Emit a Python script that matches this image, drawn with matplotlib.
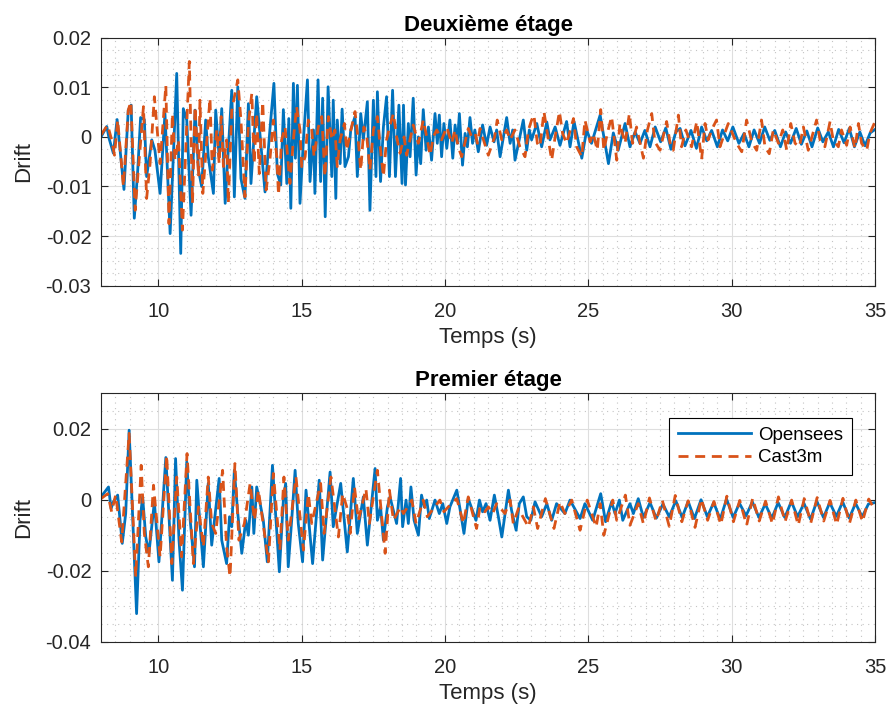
import matplotlib
matplotlib.use('Agg')
import matplotlib.pyplot as plt
from matplotlib.ticker import MultipleLocator

plt.rcParams['font.family'] = ['Liberation Sans', 'DejaVu Sans']
plt.rcParams['axes.unicode_minus'] = False

# Deuxieme etage - Opensees (time s, drift)
t2_os = [8.00, 8.20, 8.28, 8.43, 8.56, 8.80, 8.95, 9.05, 9.16, 9.28, 9.38, 9.51, 9.59, 9.77, 9.88,
         10.06, 10.23, 10.41, 10.64, 10.78, 10.87, 10.99, 11.14, 11.28, 11.40, 11.51, 11.65, 11.74,
         11.92, 12.00, 12.12, 12.21, 12.33, 12.56, 12.65, 12.77, 12.88, 13.02, 13.14, 13.23, 13.43,
         13.72, 13.89, 14.03, 14.15, 14.27, 14.36, 14.48, 14.55, 14.62, 14.71, 14.78, 14.85, 14.94,
         15.06, 15.20, 15.29, 15.41, 15.46, 15.57, 15.66, 15.73, 15.82, 15.92, 16.05, 16.10, 16.19,
         16.24, 16.34, 16.41, 16.51, 16.63, 16.71, 16.86, 16.94, 17.06, 17.15, 17.29, 17.38, 17.50,
         17.59, 17.64, 17.75, 17.85, 17.96, 18.06, 18.17, 18.27, 18.39, 18.50, 18.55, 18.62, 18.72,
         18.78, 18.89, 18.99, 19.07, 19.15, 19.24, 19.34, 19.42, 19.53, 19.65, 19.73, 19.80, 19.88,
         19.96, 20.06, 20.17, 20.27, 20.35, 20.43, 20.50, 20.61, 20.70, 20.78, 20.87, 20.96, 21.04,
         21.16, 21.31, 21.45, 21.57, 21.71, 21.80, 21.92, 22.15, 22.27, 22.36, 22.44, 22.73, 22.85,
         22.94, 23.02, 23.20, 23.37, 23.55, 23.66, 23.84, 24.01, 24.24, 24.36, 24.50, 24.77, 24.94,
         25.11, 25.41, 25.70, 25.87, 26.04, 26.28, 26.45, 26.63, 26.80, 26.97, 27.15, 27.33, 27.52,
         27.70, 27.88, 28.05, 28.20, 28.37, 28.58, 28.77, 28.95, 29.13, 29.30, 29.50, 29.68, 29.86,
         30.04, 30.25, 30.43, 30.60, 30.78, 30.97, 31.15, 31.33, 31.50, 31.70, 31.88, 32.05, 32.25,
         32.43, 32.62, 32.80, 33.00, 33.18, 33.37, 33.55, 33.73, 33.92, 34.10, 34.28, 34.47, 34.65,
         34.83, 35.00]
d2_os = [0.0000, 0.0021, -0.0003, -0.0033, 0.0035, -0.0106, 0.0054, 0.0064, -0.0164, -0.0067, 0.0039,
         0.0035, -0.0080, -0.0006, -0.0027, -0.0114, 0.0047, -0.0195, 0.0128, -0.0235, 0.0057, 0.0034,
         -0.0158, 0.0054, -0.0067, -0.0100, 0.0034, -0.0040, -0.0114, 0.0054, -0.0040, 0.0057, -0.0134,
         0.0094, -0.0121, 0.0101, -0.0084, -0.0124, 0.0067, -0.0094, 0.0081, -0.0111, 0.0014, 0.0108,
         -0.0074, -0.0097, 0.0055, -0.0094, 0.0037, -0.0144, 0.0108, -0.0043, 0.0104, -0.0134, -0.0006,
         0.0115, -0.0090, 0.0014, -0.0114, 0.0115, -0.0090, 0.0078, -0.0161, 0.0101, -0.0080, 0.0074,
         -0.0124, 0.0034, -0.0054, 0.0056, -0.0060, -0.0040, 0.0014, 0.0041, -0.0080, 0.0047, -0.0006,
         0.0071, -0.0148, 0.0074, -0.0080, 0.0091, -0.0090, 0.0020, 0.0081, -0.0080, 0.0094, -0.0080,
         0.0064, -0.0094, 0.0064, -0.0097, 0.0027, -0.0040, 0.0078, -0.0077, 0.0000, -0.0054, 0.0055,
         -0.0027, 0.0020, -0.0047, 0.0047, -0.0013, 0.0044, -0.0040, 0.0027, -0.0023, 0.0034, -0.0043,
         0.0024, -0.0013, 0.0047, -0.0057, 0.0007, -0.0020, 0.0039, -0.0013, 0.0014, -0.0030, 0.0024,
         -0.0017, 0.0020, -0.0010, 0.0014, -0.0040, 0.0039, -0.0013, 0.0014, -0.0047, 0.0034, -0.0027,
         0.0014, -0.0006, 0.0027, -0.0020, 0.0030, -0.0006, 0.0020, -0.0017, 0.0031, -0.0020, 0.0031,
         -0.0043, 0.0014, -0.0013, 0.0044, -0.0054, 0.0008, -0.0027, 0.0027, -0.0020, 0.0010, -0.0013,
         0.0013, -0.0020, 0.0020, -0.0010, 0.0018, -0.0025, 0.0010, 0.0017, -0.0018, 0.0013, -0.0023,
         0.0020, -0.0008, 0.0013, -0.0020, 0.0014, -0.0008, 0.0020, -0.0013, 0.0007, -0.0020, 0.0014,
         -0.0013, 0.0020, -0.0007, 0.0013, -0.0020, 0.0010, -0.0013, 0.0017, -0.0015, 0.0012, -0.0020,
         0.0018, -0.0010, 0.0010, -0.0020, 0.0015, -0.0012, 0.0017, -0.0020, 0.0010, -0.0018, 0.0008,
         0.0015]

# Deuxieme etage - Cast3m
t2_c3m = [8.00, 8.23, 8.37, 8.47, 8.58, 8.78, 8.95, 9.04, 9.19, 9.30, 9.48, 9.59, 9.71, 9.86, 10.06,
          10.26, 10.37, 10.49, 10.58, 10.70, 10.84, 11.08, 11.19, 11.28, 11.40, 11.45, 11.55, 11.69,
          11.80, 11.88, 12.04, 12.12, 12.19, 12.27, 12.38, 12.44, 12.56, 12.77, 12.88, 13.02, 13.14,
          13.26, 13.34, 13.43, 13.52, 13.64, 13.76, 13.89, 14.01, 14.13, 14.19, 14.30, 14.42, 14.53,
          14.59, 14.71, 14.82, 14.94, 15.00, 15.12, 15.23, 15.35, 15.43, 15.58, 15.70, 15.81, 15.93,
          16.05, 16.16, 16.24, 16.34, 16.49, 16.57, 16.69, 16.86, 16.98, 17.06, 17.17, 17.27, 17.38,
          17.50, 17.64, 17.75, 17.85, 17.96, 18.08, 18.20, 18.31, 18.43, 18.57, 18.66, 18.89, 19.07,
          19.24, 19.36, 19.48, 19.59, 19.71, 19.88, 20.06, 20.23, 20.35, 20.46, 20.58, 20.81, 20.93,
          21.05, 21.13, 21.22, 21.34, 21.51, 21.73, 21.82, 21.98, 22.15, 22.27, 22.44, 22.61, 22.79,
          22.91, 23.02, 23.10, 23.22, 23.31, 23.45, 23.55, 23.72, 23.84, 23.99, 24.10, 24.24, 24.48,
          24.59, 24.77, 24.88, 25.06, 25.17, 25.31, 25.43, 25.54, 25.66, 25.81, 25.99, 26.10, 26.28,
          26.43, 26.54, 26.68, 26.92, 27.06, 27.21, 27.32, 27.50, 27.73, 27.85, 27.96, 28.14, 28.25,
          28.40, 28.60, 28.78, 28.95, 29.07, 29.18, 29.30, 29.47, 29.59, 29.71, 29.88, 30.17, 30.35,
          30.52, 30.70, 30.87, 31.04, 31.16, 31.31, 31.45, 31.63, 31.78, 31.92, 32.06, 32.21, 32.36,
          32.50, 32.67, 32.96, 33.08, 33.25, 33.43, 33.54, 33.72, 33.83, 34.01, 34.13, 34.30, 34.42,
          34.53, 34.71, 34.82, 35.00]
d2_c3m = [0.0004, 0.0024, -0.0006, -0.0037, 0.0034, -0.0100, 0.0054, 0.0071, -0.0148, -0.0067, 0.0061,
          -0.0124, -0.0054, 0.0081, -0.0054, 0.0104, -0.0175, 0.0047, -0.0047, -0.0006, -0.0188, 0.0152,
          -0.0134, 0.0061, -0.0080, 0.0074, -0.0114, -0.0006, 0.0078, -0.0067, 0.0014, -0.0054, 0.0041,
          -0.0060, -0.0006, -0.0134, 0.0054, 0.0115, 0.0034, -0.0121, 0.0027, 0.0088, -0.0054, 0.0047,
          -0.0074, 0.0071, -0.0107, -0.0047, 0.0034, -0.0040, -0.0117, -0.0006, 0.0020, -0.0054, -0.0094,
          -0.0006, 0.0061, 0.0014, -0.0060, -0.0040, 0.0034, 0.0014, -0.0040, 0.0020, 0.0041, -0.0080,
          0.0041, -0.0006, 0.0014, -0.0060, -0.0006, 0.0027, -0.0027, 0.0007, 0.0051, -0.0013, -0.0067,
          0.0020, 0.0000, -0.0067, 0.0014, 0.0041, -0.0027, -0.0080, -0.0006, 0.0024, 0.0047, 0.0000,
          -0.0033, 0.0000, -0.0037, 0.0024, -0.0013, 0.0034, 0.0000, -0.0037, 0.0000, 0.0014, -0.0006,
          0.0020, -0.0013, 0.0014, -0.0020, -0.0040, 0.0017, 0.0000, 0.0007, -0.0013, 0.0017, -0.0006,
          -0.0037, 0.0000, 0.0034, -0.0006, 0.0014, -0.0006, 0.0014, -0.0020, -0.0040, 0.0014, 0.0034,
          0.0044, -0.0013, -0.0020, 0.0051, 0.0014, -0.0047, 0.0000, 0.0051, 0.0007, -0.0013, 0.0037,
          -0.0020, -0.0040, 0.0034, -0.0010, 0.0007, -0.0027, 0.0055, -0.0027, 0.0007, 0.0041, -0.0047,
          0.0027, -0.0013, 0.0047, -0.0013, 0.0020, -0.0043, 0.0014, 0.0047, -0.0010, -0.0027, 0.0031,
          -0.0013, -0.0027, 0.0044, -0.0020, 0.0014, -0.0020, 0.0031, -0.0045, 0.0027, -0.0006, 0.0014,
          0.0034, -0.0020, 0.0000, 0.0027, -0.0013, -0.0030, 0.0034, -0.0010, -0.0027, 0.0034, -0.0020,
          -0.0034, 0.0014, -0.0013, 0.0014, -0.0027, 0.0027, -0.0013, -0.0020, 0.0020, -0.0027, 0.0034,
          -0.0006, -0.0020, 0.0031, -0.0006, -0.0020, 0.0014, -0.0017, 0.0020, -0.0023, 0.0027, -0.0013,
          -0.0027, 0.0007, 0.0031]

# Premier etage - Opensees
t1_os = [8.00, 8.26, 8.35, 8.43, 8.58, 8.74, 8.86, 8.98, 9.09, 9.24, 9.36, 9.45, 9.56, 9.67, 9.86,
         10.02, 10.26, 10.49, 10.60, 10.72, 10.84, 10.99, 11.11, 11.26, 11.34, 11.45, 11.57, 11.74,
         11.86, 12.12, 12.21, 12.38, 12.48, 12.56, 12.65, 12.77, 12.91, 13.05, 13.14, 13.26, 13.33,
         13.43, 13.55, 13.66, 13.80, 13.98, 14.09, 14.22, 14.36, 14.44, 14.53, 14.65, 14.77, 14.88,
         15.03, 15.15, 15.38, 15.61, 15.73, 15.99, 16.10, 16.36, 16.59, 16.80, 16.94, 17.15, 17.29,
         17.56, 17.64, 17.75, 17.85, 17.99, 18.08, 18.31, 18.45, 18.52, 18.64, 18.72, 18.81, 18.92,
         19.07, 19.18, 19.27, 19.36, 19.45, 19.65, 19.80, 19.92, 20.06, 20.17, 20.41, 20.52, 20.66,
         20.81, 21.08, 21.20, 21.31, 21.43, 21.57, 21.72, 21.86, 21.98, 22.21, 22.32, 22.48, 22.59,
         22.73, 22.85, 22.99, 23.14, 23.37, 23.55, 23.72, 23.89, 24.18, 24.36, 24.71, 24.88, 25.15,
         25.43, 25.60, 25.81, 25.93, 26.08, 26.20, 26.45, 26.57, 26.74, 26.92, 27.15, 27.37, 27.60,
         27.82, 28.05, 28.27, 28.48, 28.70, 28.93, 29.15, 29.37, 29.60, 29.82, 30.05, 30.27, 30.50,
         30.72, 30.95, 31.17, 31.40, 31.62, 31.85, 32.08, 32.30, 32.52, 32.75, 32.97, 33.20, 33.42,
         33.65, 33.87, 34.10, 34.32, 34.55, 34.77, 35.00]
d1_os = [0.0008, 0.0036, -0.0025, -0.0006, 0.0013, -0.0123, -0.0039, 0.0196, -0.0020, -0.0321, -0.0058,
         0.0008, -0.0105, -0.0151, -0.0006, -0.0175, 0.0119, -0.0227, 0.0116, -0.0114, -0.0255, 0.0107,
         -0.0058, -0.0189, 0.0055, -0.0067, -0.0189, 0.0046, -0.0128, 0.0060, -0.0114, -0.0180, -0.0048,
         -0.0076, 0.0083, -0.0039, -0.0151, -0.0058, -0.0100, 0.0036, -0.0095, 0.0036, -0.0011, -0.0058,
         -0.0175, 0.0097, -0.0039, -0.0203, -0.0001, 0.0046, -0.0189, -0.0058, 0.0083, -0.0067, -0.0175,
         0.0027, -0.0180, 0.0055, -0.0170, 0.0078, -0.0076, 0.0046, -0.0147, 0.0060, -0.0095, 0.0008,
         -0.0128, 0.0088, -0.0058, -0.0020, -0.0114, -0.0020, 0.0008, -0.0067, 0.0060, -0.0076, -0.0001,
         -0.0067, 0.0036, -0.0058, -0.0100, 0.0013, -0.0020, -0.0001, -0.0053, -0.0001, -0.0039, -0.0011,
         -0.0067, -0.0020, 0.0027, -0.0025, -0.0095, 0.0003, -0.0058, -0.0001, -0.0034, -0.0011, -0.0058,
         0.0013, -0.0048, -0.0105, 0.0027, -0.0030, -0.0086, -0.0011, 0.0008, -0.0048, -0.0058, -0.0006,
         -0.0048, -0.0011, -0.0058, -0.0011, -0.0039, -0.0001, -0.0053, -0.0011, -0.0058, 0.0017, -0.0062,
         -0.0006, -0.0039, -0.0001, -0.0058, -0.0011, -0.0039, 0.0003, -0.0050, -0.0008, -0.0052, -0.0012,
         -0.0048, -0.0003, -0.0050, -0.0005, -0.0053, 0.0000, -0.0048, -0.0008, -0.0055, 0.0002, -0.0050,
         -0.0010, -0.0045, -0.0006, -0.0050, -0.0012, -0.0052, -0.0008, -0.0050, -0.0005, -0.0048, -0.0010,
         -0.0055, -0.0004, -0.0050, -0.0008, -0.0047, -0.0006, -0.0052, -0.0010, -0.0048, -0.0012, -0.0008]

# Premier etage - Cast3m
t1_c3m = [8.00, 8.23, 8.37, 8.51, 8.72, 8.98, 9.21, 9.40, 9.51, 9.65, 9.83, 10.06, 10.29, 10.47, 10.64,
          10.81, 11.00, 11.22, 11.40, 11.57, 11.74, 11.86, 12.00, 12.24, 12.38, 12.50, 12.67, 12.81,
          13.00, 13.20, 13.35, 13.49, 13.84, 14.01, 14.24, 14.38, 14.53, 14.80, 15.06, 15.23, 15.35,
          15.66, 15.78, 16.02, 16.28, 16.43, 16.57, 16.69, 16.84, 16.98, 17.24, 17.36, 17.64, 17.91,
          18.06, 18.20, 18.45, 18.55, 18.84, 18.99, 19.24, 19.38, 19.82, 19.96, 20.17, 20.41, 20.64,
          20.81, 21.10, 21.22, 21.39, 21.51, 21.66, 21.80, 22.09, 22.27, 22.38, 22.56, 22.91, 23.08,
          23.23, 23.50, 23.80, 24.01, 24.18, 24.42, 24.71, 24.96, 25.27, 25.41, 25.54, 25.85, 25.99,
          26.29, 26.45, 26.74, 26.92, 27.13, 27.36, 27.58, 27.82, 28.03, 28.26, 28.48, 28.72, 28.94,
          29.16, 29.38, 29.62, 29.83, 30.06, 30.28, 30.52, 30.73, 30.96, 31.18, 31.42, 31.63, 31.86,
          32.09, 32.32, 32.53, 32.76, 32.98, 33.21, 33.43, 33.66, 33.88, 34.11, 34.33, 34.56, 34.78,
          35.00]
d1_c3m = [0.0003, 0.0017, -0.0034, 0.0013, -0.0119, 0.0187, -0.0217, 0.0097, -0.0095, -0.0189, 0.0041,
          -0.0161, 0.0125, -0.0180, 0.0064, -0.0161, 0.0130, -0.0180, -0.0020, -0.0133, 0.0064, -0.0067,
          -0.0095, 0.0083, -0.0133, -0.0217, 0.0102, -0.0114, -0.0067, 0.0046, -0.0058, 0.0027, -0.0175,
          0.0074, -0.0142, 0.0064, -0.0114, 0.0064, -0.0142, 0.0017, -0.0067, 0.0046, -0.0095, 0.0064,
          -0.0105, 0.0017, -0.0020, -0.0095, 0.0036, -0.0058, 0.0031, -0.0067, 0.0083, -0.0151, 0.0027,
          -0.0058, -0.0020, -0.0039, -0.0001, -0.0067, -0.0001, -0.0048, -0.0001, -0.0034, -0.0015, 0.0003,
          -0.0067, 0.0008, -0.0081, -0.0020, -0.0034, -0.0020, -0.0039, -0.0011, -0.0039, -0.0001, -0.0067,
          -0.0025, -0.0077, -0.0020, -0.0081, 0.0003, -0.0081, -0.0006, -0.0039, -0.0001, -0.0086, -0.0001,
          -0.0077, -0.0011, -0.0100, -0.0001, -0.0058, 0.0013, -0.0072, -0.0011, -0.0068, 0.0005, -0.0060,
          -0.0002, -0.0075, 0.0012, -0.0062, -0.0003, -0.0078, 0.0002, -0.0058, -0.0005, -0.0070, 0.0010,
          -0.0062, -0.0002, -0.0072, 0.0004, -0.0060, -0.0004, -0.0068, 0.0008, -0.0062, -0.0001, -0.0072,
          0.0003, -0.0065, 0.0006, -0.0060, -0.0002, -0.0070, 0.0004, -0.0066, -0.0001, -0.0062, 0.0002,
          -0.0030]

x_ticks = [10, 15, 20, 25, 30, 35]
y_ticks_top = [-0.03, -0.02, -0.01, 0, 0.01, 0.02]
y_labels_top = ['-0.03', '-0.02', '-0.01', '0', '0.01', '0.02']
y_ticks_bot = [-0.04, -0.02, 0, 0.02]
y_labels_bot = ['-0.04', '-0.02', '0', '0.02']

blue = '#0072BD'
orange = '#D95319'


def style_axes(ax, title, yticks, ylabels, ylim, yminor):
    ax.set_xlim(8, 35)
    ax.set_ylim(*ylim)
    ax.set_xticks(x_ticks)
    ax.set_xticklabels([str(v) for v in x_ticks])
    ax.set_yticks(yticks)
    ax.set_yticklabels(ylabels)
    ax.xaxis.set_minor_locator(MultipleLocator(0.5))
    ax.yaxis.set_minor_locator(MultipleLocator(yminor))
    ax.tick_params(which='major', direction='in', length=5, width=0.8, top=True, right=True,
                   labelsize=14.5, colors='#262626', labelcolor='#262626')
    ax.tick_params(axis='x', which='major', pad=12)
    ax.tick_params(axis='y', which='major', pad=7)
    ax.tick_params(which='minor', length=0)
    ax.grid(True, which='major', color='#dedede', linewidth=0.8)
    ax.grid(True, which='minor', color='#c4c4c4', linestyle=(0, (1, 4)), linewidth=0.8)
    ax.set_axisbelow(True)
    for s in ax.spines.values():
        s.set_color('#262626')
        s.set_linewidth(0.8)
    ax.set_title(title, fontsize=16, fontweight='bold', pad=5)
    ax.set_xlabel('Temps (s)', fontsize=16, color='#262626', labelpad=4)
    ax.set_ylabel('Drift', fontsize=16, color='#262626', labelpad=8)


fig = plt.figure(figsize=(8.91, 7.14), dpi=100)

ax1 = fig.add_axes([0.1134, 0.5999, 0.8687, 0.3473])
ax1.plot(t2_os, d2_os, color=blue, linewidth=2.0)
ax1.plot(t2_c3m, d2_c3m, color=orange, linewidth=2.0, linestyle=(0, (3.6, 2.4)))
style_axes(ax1, 'Deuxième étage', y_ticks_top, y_labels_top, (-0.03, 0.02), 0.0025)

ax2 = fig.add_axes([0.1134, 0.1013, 0.8687, 0.3479])
ax2.plot(t1_os, d1_os, color=blue, linewidth=2.0, label='Opensees')
ax2.plot(t1_c3m, d1_c3m, color=orange, linewidth=2.0, linestyle=(0, (3.6, 2.4)), label='Cast3m')
style_axes(ax2, 'Premier étage', y_ticks_bot, y_labels_bot, (-0.04, 0.03), 0.005)

leg = ax2.legend(loc='upper right', bbox_to_anchor=(0.970, 0.9006), borderaxespad=0,
                 fancybox=False, edgecolor='black', framealpha=1, fontsize=13.5,
                 handlelength=3.9, handletextpad=0.4, labelspacing=0.3, borderpad=0.45)
leg.get_frame().set_linewidth(0.8)

fig.savefig('out.png', dpi=100)
